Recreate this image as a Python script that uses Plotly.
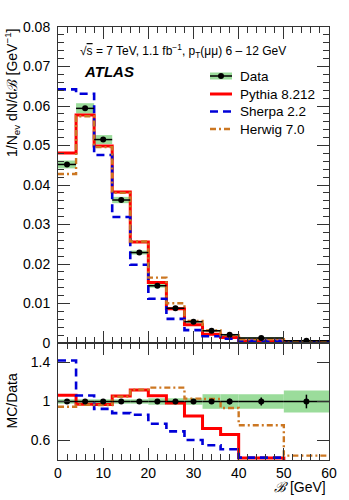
import plotly.graph_objects as go
from plotly.subplots import make_subplots

# bin edges of the B distribution [GeV]
edges = [0, 4, 8, 12, 16, 20, 24, 28, 32, 36, 40, 50, 60]

# unfolded data, 1/N dN/dB [GeV^-1]
data_vals = [0.0452, 0.0594, 0.0515, 0.0362, 0.0229, 0.0145, 0.0088, 0.0054, 0.0031, 0.0021, 0.00125, 0.0006]
data_stat_rel = [0.004, 0.004, 0.004, 0.005, 0.006, 0.008, 0.01, 0.012, 0.015, 0.03, 0.04, 0.07]
data_syst_rel = [0.022, 0.022, 0.022, 0.022, 0.022, 0.033, 0.033, 0.033, 0.075, 0.075, 0.075, 0.113]

# generator predictions
pythia_vals = [0.0481, 0.0577, 0.0499, 0.0382, 0.0256, 0.01534, 0.00867, 0.00459, 0.00224, 0.00139, 0.000525, 0.00018]
sherpa_vals = [0.0642, 0.0631, 0.0476, 0.0319, 0.0198, 0.0112, 0.0061, 0.00327, 0.00171, 0.00107, 0.000531, 0.00018]
herwig_vals = [0.0428, 0.0574, 0.0496, 0.0380, 0.0257, 0.01656, 0.01005, 0.00556, 0.00318, 0.00196, 0.000946, 0.000267]

legend_labels = ["Data", "Pythia 8.212", "Sherpa 2.2", "Herwig 7.0"]

RED = "#ff0000"
BLUE = "#0000d8"
ORANGE = "#cc7722"
GREEN = "#9bdc9b"
FRAME = "#333333"
FONT = "Liberation Sans, Arial, Helvetica, sans-serif"

centers = [(a + b) / 2 for a, b in zip(edges[:-1], edges[1:])]
widths = [b - a for a, b in zip(edges[:-1], edges[1:])]
half = [w / 2 for w in widths]

fig = make_subplots(rows=2, cols=1, shared_xaxes=True, vertical_spacing=0,
                    row_heights=[0.7298, 0.2702])

# systematic band
syst_abs = [d * s for d, s in zip(data_vals, data_syst_rel)]
fig.add_trace(go.Bar(x=centers, y=[2 * s for s in syst_abs], base=[d - s for d, s in zip(data_vals, syst_abs)],
                     width=widths, marker=dict(color=GREEN, line_width=0)), row=1, col=1)
fig.add_trace(go.Bar(x=centers, y=[2 * s for s in data_syst_rel], base=[1 - s for s in data_syst_rel],
                     width=widths, marker=dict(color=GREEN, line_width=0)), row=2, col=1)

mc = [
    (pythia_vals, RED, 3, "solid"),
    (sherpa_vals, BLUE, 2.6, "8px,5px"),
    (herwig_vals, ORANGE, 2.4, "6px,3px,2px,3px"),
]
for vals, color, lw, dash in mc:
    ratio = [v / d for v, d in zip(vals, data_vals)]
    fig.add_trace(go.Scatter(x=edges, y=vals + vals[-1:], mode="lines", line_shape="hv",
                             line=dict(color=color, width=lw, dash=dash)), row=1, col=1)
    fig.add_trace(go.Scatter(x=edges, y=ratio + ratio[-1:], mode="lines", line_shape="hv",
                             line=dict(color=color, width=lw, dash=dash)), row=2, col=1)

# data points
fig.add_trace(go.Scatter(x=centers, y=data_vals, mode="markers",
                         marker=dict(color="black", size=6),
                         error_x=dict(type="data", array=half, width=0, color="black", thickness=1.5),
                         error_y=dict(type="data", array=[d * s for d, s in zip(data_vals, data_stat_rel)],
                                      width=0, color="black", thickness=1.5)), row=1, col=1)
fig.add_trace(go.Scatter(x=centers, y=[d / d for d in data_vals], mode="markers",
                         marker=dict(color="black", size=6),
                         error_x=dict(type="data", array=half, width=0, color="black", thickness=1.5),
                         error_y=dict(type="data", array=data_stat_rel, width=0, color="black", thickness=1.5)),
              row=2, col=1)

axis_style = dict(showline=True, linecolor=FRAME, linewidth=1, mirror="ticks", ticks="inside",
                  ticklen=12, tickcolor=FRAME, showgrid=False, zeroline=False,
                  tickfont=dict(size=14, color="black"))

fig.update_xaxes(axis_style, range=[0, 60], tick0=0, dtick=10,
                 minor=dict(ticks="inside", ticklen=6, tickcolor=FRAME, dtick=2))
fig.update_xaxes(showticklabels=False, row=1, col=1)
fig.update_yaxes(axis_style, range=[0, 0.08], tick0=0, dtick=0.01, ticklabelstandoff=4,
                 minor=dict(ticks="inside", ticklen=6, tickcolor=FRAME, dtick=0.002), row=1, col=1)
fig.update_yaxes(axis_style, range=[0.4, 1.6], tickvals=[0.6, 1, 1.4], ticktext=["0.6", "1", "1.4"],
                 ticklabelstandoff=4, row=2, col=1)

L, T = 58, 27


def px_shape(kind, x0, x1, y0, y1, **kw):
    # shape placed in screen pixels relative to the top-left of the plot area
    return dict(type=kind, xref="paper", yref="paper", xsizemode="pixel", ysizemode="pixel",
                xanchor=0, yanchor=1, x0=x0 - L, x1=x1 - L, y0=T - y0, y1=T - y1, **kw)


def px_text(text, x, y, size=14, xanchor="left", **kw):
    return dict(text=text, xref="paper", yref="paper", x=0, y=1, xshift=x - L, yshift=T - y,
                xanchor=xanchor, yanchor="middle", showarrow=False,
                font=dict(family=FONT, size=size, color="black"), **kw)


shapes = []
annotations = []
leg_x0, leg_x1 = 210, 232
leg_rows = [76, 94, 111.5, 129]
shapes.append(px_shape("rect", leg_x0, leg_x1, leg_rows[0] - 3.5, leg_rows[0] + 3.5,
                       fillcolor=GREEN, line_width=0))
shapes.append(px_shape("line", leg_x0, leg_x1, leg_rows[0], leg_rows[0], line=dict(color="black", width=1.5)))
shapes.append(px_shape("circle", 218, 224, leg_rows[0] - 3, leg_rows[0] + 3,
                       fillcolor="black", line=dict(color="black", width=0)))
for (vals, color, lw, dash), yrow in zip(mc, leg_rows[1:]):
    shapes.append(px_shape("line", leg_x0, leg_x1, yrow, yrow, line=dict(color=color, width=lw, dash=dash)))
for label, yrow in zip(legend_labels, leg_rows):
    annotations.append(px_text(label, 238, yrow, size=13.5))

annotations.append(px_text("√<span style='text-decoration:overline'>s</span> = 7 TeV, 1.1 fb<sup>−1</sup>, "
                           "p<sub>T</sub>(μμ) 6 – 12 GeV", 78, 51, size=12))
annotations.append(px_text("<b><i>ATLAS</i></b>", 82, 71, size=15))

# axis titles
annotations.append(dict(text="1/N<sub>ev</sub> dN/dℬ [GeV<sup>−1</sup>]", xref="paper", yref="paper",
                        x=0, y=1, xshift=-46, xanchor="center", yanchor="top", textangle=-90,
                        showarrow=False, font=dict(family=FONT, size=14, color="black")))
annotations.append(dict(text="MC/Data", xref="paper", yref="y2 domain", x=0, y=0.5, xshift=-46,
                        xanchor="center", yanchor="middle", textangle=-90, showarrow=False,
                        font=dict(family=FONT, size=14, color="black")))
annotations.append(dict(text="<i>ℬ</i> [GeV]", xref="paper", yref="paper", x=1, y=0, xshift=-1, yshift=-27,
                        xanchor="right", yanchor="middle", showarrow=False,
                        font=dict(family=FONT, size=14, color="black")))

fig.update_layout(
    width=349, height=500,
    margin=dict(l=L, r=15, t=T, b=40),
    plot_bgcolor="white", paper_bgcolor="white",
    showlegend=False,
    font=dict(family=FONT, size=14, color="black"),
    shapes=shapes,
    annotations=annotations,
)

# drop the default page margin so the figure sits at the window's top-left corner
fig.write_html("out.html", config={"displayModeBar": False},
               post_script="document.body.style.margin='0';")
